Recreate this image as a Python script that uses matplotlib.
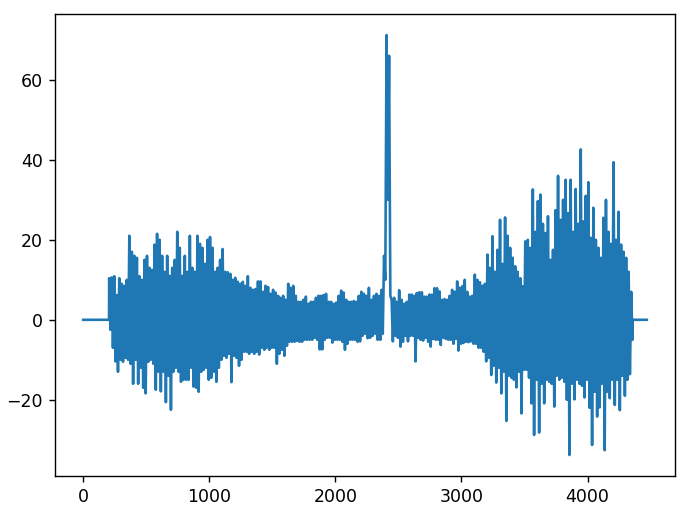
import matplotlib
matplotlib.use('Agg')
import matplotlib.pyplot as plt
import numpy as np

# peaks, one pair (up, down) every 20 samples
upper = [
    10.4, 10.6, 10.9, 6.2, 10.4, 9, 8.5, 10, 21, 17,
    16, 15.5, 10.9, 10, 15, 16, 13, 12.5, 18.8, 21.5,
    20, 16, 12, 16, 11, 13, 15, 22, 18, 11,
    16, 12, 21, 13, 12, 21, 19, 18, 14, 20,
    20.7, 18, 12, 13, 15, 17.7, 12, 11.9, 11.5, 10,
    10.5, 9.5, 9, 9.5, 8.5, 10.9, 8, 7.5, 7.7, 9.6,
    9.6, 7, 8.5, 8.2, 6.5, 7.5, 6.8, 6, 5.5, 6,
    5, 9, 8, 8.5, 6, 4.5, 4.5, 5, 5.8, 4,
    4.5, 4.5, 5.5, 6, 6, 6.2, 6.5, 4.5, 4.5, 4,
    4.3, 6, 7.3, 6.8, 5, 4.5, 4.5, 4.7, 4.5, 6,
    7, 6.5, 6, 8, 5, 6, 6.5, 6, 7.5, 16,
    71.2, 66, 5, 5.5, 4.5, 7.4, 5, 4, 4.5, 6.3,
    6.3, 6, 6.7, 6.9, 6.9, 5.8, 5.8, 6.3, 6.3, 7.9,
    7.9, 7.1, 5, 5.2, 5, 6, 7.5, 7, 9.6, 8,
    8.4, 10, 7, 5.8, 6, 11.3, 10, 9.4, 8.5, 9,
    16.3, 13, 20.9, 12, 17.5, 25, 14, 25.6, 21, 18,
    15.5, 13.4, 12, 10.4, 8.4, 19.6, 20, 18, 32.6, 22,
    29.7, 31.3, 24, 21.7, 25.9, 15, 17.5, 27.4, 36, 25,
    30, 35, 26.7, 35, 22, 32.7, 24, 42.6, 24.6, 31,
    34.4, 20.5, 28, 20, 18, 15.5, 25.5, 30, 22, 19,
    39.4, 20, 27, 18.8, 17, 15.5, 12, 7,
]
lower = [
    -2.5, -7, -10.4, -13, -10, -10.5, -9.5, -10, -11, -16,
    -10, -16, -12, -17, -18.4, -10.5, -10, -11, -17.5, -13,
    -17.9, -13, -20.6, -14, -22.5, -13, -12, -13, -15.5, -15,
    -15, -15, -12, -16.7, -17, -18, -13, -12.5, -12, -15,
    -14.5, -13, -15.5, -12, -10, -9, -9.5, -8.5, -15.6, -9,
    -9.5, -11.5, -10, -8, -8, -8.5, -8, -8.5, -8, -8.7,
    -7, -7.5, -7, -7.5, -7, -7, -11, -8.5, -7.5, -9,
    -6.5, -5.5, -5.5, -5.5, -5.3, -5.5, -5.5, -5, -5, -5,
    -5, -4.5, -5, -7.4, -7.4, -5, -4.5, -4.5, -5.7, -5,
    -5, -5, -5.5, -7.5, -6, -5, -5, -5, -5.5, -5.4,
    -4, -3.5, -4.6, -4.5, -4, -3.5, -5, -5, -3.5, 10,
    30, 6, -5.4, -4, -4.5, -6.7, -5.5, -4, -5.4, -4,
    -4, -10.4, -4.5, -5, -5.2, -4.5, -5.5, -6.7, -4.8, -5,
    -5, -6.3, -4.5, -4.8, -5, -5, -6, -4.8, -7.7, -6,
    -5.8, -5.5, -5.6, -5.4, -6, -6, -7, -7, -8, -10.4,
    -9.5, -13.8, -11.5, -15.7, -12, -18.4, -13, -25.3, -14, -14.5,
    -15, -16.9, -13, -23.4, -12.5, -12.5, -14.5, -20.9, -28.8, -15,
    -28.2, -16, -20.9, -15, -15.5, -16, -21.7, -14, -15, -14.5,
    -15.5, -20, -33.8, -16, -19.9, -15, -16, -16.5, -19.4, -15,
    -22, -31.3, -18, -24.2, -21.9, -16, -32.6, -18, -19.6, -15,
    -21.3, -15, -22.6, -14, -19, -15, -13.6, -5,
]
x_start = 206
x_end = 4470

vals = np.empty(len(upper) + len(lower))
vals[0::2] = upper
vals[1::2] = lower
xs = x_start + 10 * np.arange(len(vals))

# flat zero stretch on both sides of the signal
xs = np.concatenate(([0, x_start - 1], xs, [xs[-1] + 1, x_end]))
vals = np.concatenate(([0, 0], vals, [0, 0]))

fig = plt.figure(figsize=(697 / 125, 522 / 125), dpi=125)
ax = fig.add_axes([55 / 697, 46 / 522, 620 / 697, 462 / 522])
ax.plot(xs, vals)
fig.savefig('out.png', dpi=125)
